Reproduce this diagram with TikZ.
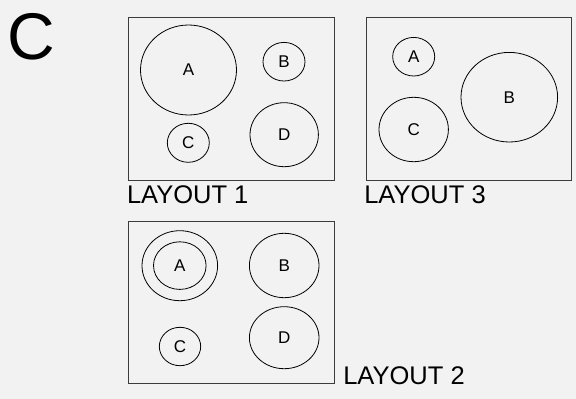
\documentclass[tikz,border=0pt]{standalone}
\usepackage{fontspec}
\setmainfont{Liberation Sans}
\usetikzlibrary{shapes.geometric}
\definecolor{bggray}{RGB}{242,242,242}
\definecolor{framegray}{RGB}{60,60,60}
\tikzset{
  zone/.style={draw, ellipse, inner sep=0pt, line width=0.8pt, font=\fontsize{17}{18}\selectfont},
  panel/.style={draw=framegray, line width=1pt},
  caption/.style={anchor=base west, inner sep=0pt, font=\fontsize{25.5}{26}\selectfont}
}
\begin{document}
\begin{tikzpicture}[x=1pt, y=-1pt]

\fill[bggray] (0, 0) rectangle (576, 399);
\useasboundingbox (0, 0) rectangle (576, 399);

\node[anchor=base west, inner sep=0pt, font=\fontsize{66}{66}\selectfont] (panelC) at (7, 59) {C};

% layout 1
\draw[panel] (128.7, 17.3) rectangle (334.3, 180);
\foreach \n/\x/\y/\rx/\ry in {A/188.5/70/48/45, B/284/61.7/21/19.3, C/188.3/142.8/21/19.5, D/284.2/134.7/34.2/32}
\node[zone, minimum width=2*\rx, minimum height=2*\ry] (one\n) at (\x, \y) {\n};
\node[caption] (capOne) at (126.8, 203.3) {LAYOUT 1};

% layout 3
\draw[panel] (366, 17.3) rectangle (571.7, 180);
\foreach \n/\x/\y/\rx/\ry in {A/413.7/56.7/21/19.3, C/413.7/129.5/34.7/32.2, B/509.3/97.2/48.3/44.8}
\node[zone, minimum width=2*\rx, minimum height=2*\ry] (three\n) at (\x, \y) {\n};
\node[caption] (capThree) at (364.1, 203.3) {LAYOUT 3};

% layout 2
\draw[panel] (128.3, 221) rectangle (334.3, 383.3);
\node[zone, minimum width=75.6, minimum height=70] (twoRing) at (179.8, 265.7) {};
\foreach \n/\x/\y/\rx/\ry in {A/179.8/265.6/26.3/23.8, B/284.2/265.5/34.8/32.2, C/180/346.5/20.7/19.2, D/284.2/337.7/34.8/31}
\node[zone, minimum width=2*\rx, minimum height=2*\ry] (two\n) at (\x, \y) {\n};
\node[caption] (capTwo) at (343.1, 384.3) {LAYOUT 2};
\end{tikzpicture}
\end{document}
